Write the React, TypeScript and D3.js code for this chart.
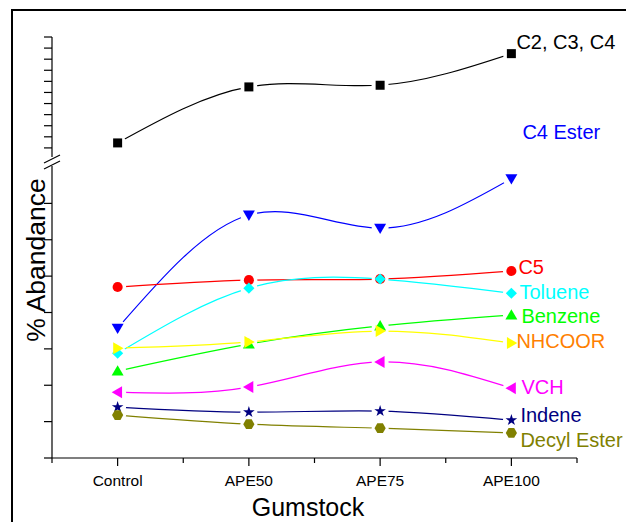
import React from 'react';
import * as d3 from 'd3';

const categories = ['Control', 'APE50', 'APE75', 'APE100'];

const c2c3c4 = [10.9, 21.0, 21.3, 27.0];
const c4Ester = [3.57, 6.68, 6.32, 7.68];
const c5 = [4.7, 4.89, 4.92, 5.14];
const toluene = [2.88, 4.67, 4.92, 4.53];
const benzene = [2.39, 3.13, 3.63, 3.93];
const nhcoor = [3.02, 3.19, 3.49, 3.16];
const vch = [1.81, 1.95, 2.64, 1.92];
const indene = [1.4, 1.26, 1.29, 1.04];
const decylEster = [1.18, 0.93, 0.82, 0.69];

const lowerTicks = [0, 1, 2, 3, 4, 5, 6, 7];
const upperTicks = [10, 12, 14, 16, 18, 20, 22, 24, 26, 28, 30];

type Shape = 'square' | 'down' | 'circle' | 'diamond' | 'up' | 'right' | 'left' | 'star' | 'hexagon';

interface Series {
  name: string;
  values: number[];
  color: string;
  labelColor: string;
  shape: Shape;
  upper?: boolean;
}

const series: Series[] = [
  { name: 'C2, C3, C4', values: c2c3c4, color: '#000000', labelColor: '#000000', shape: 'square', upper: true },
  { name: 'C4 Ester', values: c4Ester, color: '#0000ff', labelColor: '#0000ff', shape: 'down' },
  { name: 'C5', values: c5, color: '#ff0000', labelColor: '#ff0000', shape: 'circle' },
  { name: 'Toluene', values: toluene, color: '#00ffff', labelColor: '#00ffff', shape: 'diamond' },
  { name: 'Benzene', values: benzene, color: '#00ff00', labelColor: '#00ff00', shape: 'up' },
  { name: 'NHCOOR', values: nhcoor, color: '#ffff00', labelColor: '#ff8000', shape: 'right' },
  { name: 'VCH', values: vch, color: '#ff00ff', labelColor: '#ff00ff', shape: 'left' },
  { name: 'Indene', values: indene, color: '#000080', labelColor: '#000080', shape: 'star' },
  { name: 'Decyl Ester', values: decylEster, color: '#808000', labelColor: '#808000', shape: 'hexagon' },
];

// label nudges relative to the last point (dx, dy)
const labelNudge: Record<string, [number, number]> = {
  'C2, C3, C4': [5, -5],
  'C4 Ester': [11, -40],
  C5: [7, 3],
  Toluene: [8, 6],
  Benzene: [10, 8],
  NHCOOR: [5, 5],
  VCH: [10, 6],
  Indene: [9, 2],
  'Decyl Ester': [9, 14],
};

const W = 626;
const H = 522;
const axisX = 52;
const axisY = 458;
const font = 'Arial, "Liberation Sans", sans-serif';

const x = d3.scalePoint<string>().domain(categories).range([52, 577]).padding(0.5);
const yLower = d3.scaleLinear().domain([0, 8]).range([458, 167]);
const yUpper = d3.scaleLinear().domain([8, 30]).range([159, 37]);

const hexagon = (r: number) =>
  d3.range(6).map((i) => {
    const a = (Math.PI / 3) * i;
    return `${i ? 'L' : 'M'}${(r * Math.cos(a)).toFixed(2)},${(r * Math.sin(a)).toFixed(2)}`;
  }).join('') + 'Z';

function marker(shape: Shape, color: string, cx: number, cy: number, key: string) {
  const t = `translate(${cx},${cy})`;
  const tri = d3.symbol(d3.symbolTriangle, 62)()!;
  switch (shape) {
    case 'square':
      return <path key={key} transform={t} d={d3.symbol(d3.symbolSquare, 81)()!} fill={color} />;
    case 'circle':
      return <path key={key} transform={t} d={d3.symbol(d3.symbolCircle, 80)()!} fill={color} />;
    case 'diamond':
      return <path key={key} transform={`${t} rotate(45)`} d={d3.symbol(d3.symbolSquare, 62)()!} fill={color} />;
    case 'up':
      return <path key={key} transform={`${t} translate(0,1)`} d={tri} fill={color} />;
    case 'down':
      return <path key={key} transform={`${t} rotate(180) translate(0,1)`} d={tri} fill={color} />;
    case 'right':
      return <path key={key} transform={`${t} rotate(90) translate(0,1)`} d={tri} fill={color} />;
    case 'left':
      return <path key={key} transform={`${t} rotate(-90) translate(0,1)`} d={tri} fill={color} />;
    case 'star':
      return <path key={key} transform={t} d={d3.symbol(d3.symbolStar, 42)()!} fill={color} />;
    case 'hexagon':
      return <path key={key} transform={t} d={hexagon(5.6)} fill={color} />;
  }
}

export default function App() {
  const step = x.step();
  const minorTicks = [x(categories[0])! - step / 2, ...categories.map((c) => x(c)! + step / 2)];

  return (
    <svg width={W} height={H} style={{ position: 'absolute', left: 0, top: 0, background: '#fff' }}>
      <defs>
        {series.map((s, si) => {
          const ys = s.upper ? yUpper : yLower;
          return (
            <mask id={`gap-${si}`} key={si} maskUnits="userSpaceOnUse" x={0} y={0} width={W} height={H}>
              <rect x={0} y={0} width={W} height={H} fill="#fff" />
              {s.values.map((v, i) => (
                <circle key={i} cx={x(categories[i])!} cy={ys(v)} r={8.5} fill="#000" />
              ))}
            </mask>
          );
        })}
      </defs>

      {/* frame */}
      <path d={`M12,${H} V10 H${W}`} fill="none" stroke="#000" strokeWidth={2} />

      {/* y axis, broken */}
      <g stroke="#000" strokeWidth={1.2} fill="none">
        <line x1={axisX} x2={axisX} y1={yUpper(30)} y2={157} />
        <line x1={axisX} x2={axisX} y1={166} y2={axisY} />
        <line x1={axisX - 8} x2={axisX + 8} y1={163} y2={155} />
        <line x1={axisX - 8} x2={axisX + 8} y1={169} y2={161} />
        {upperTicks.map((t) => (
          <line key={`u${t}`} x1={axisX - 8} x2={axisX} y1={yUpper(t)} y2={yUpper(t)} />
        ))}
        {lowerTicks.map((t) => (
          <line key={`l${t}`} x1={axisX - 8} x2={axisX} y1={yLower(t)} y2={yLower(t)} />
        ))}
      </g>

      {/* x axis */}
      <g stroke="#000" strokeWidth={1.2}>
        <line x1={52} x2={577} y1={axisY} y2={axisY} />
        {categories.map((c) => (
          <line key={c} x1={x(c)!} x2={x(c)!} y1={axisY} y2={axisY + 8} />
        ))}
        {minorTicks.map((m, i) => (
          <line key={i} x1={m} x2={m} y1={axisY} y2={axisY + 5} />
        ))}
      </g>
      {categories.map((c) => (
        <text key={c} x={x(c)!} y={486} textAnchor="middle" fontFamily={font} fontSize={15.5} fill="#000">
          {c}
        </text>
      ))}

      <text x={308} y={516} textAnchor="middle" fontFamily={font} fontSize={25} fill="#000">
        Gumstock
      </text>
      <text
        transform="translate(45,260) rotate(-90)"
        textAnchor="middle"
        fontFamily={font}
        fontSize={26.5}
        fill="#000"
      >
        % Abandance
      </text>

      {/* series */}
      {series.map((s, si) => {
        const ys = s.upper ? yUpper : yLower;
        const line = d3
          .line<number>()
          .x((_, i) => x(categories[i])!)
          .y((v) => ys(v))
          .curve(d3.curveNatural);
        const last = s.values.length - 1;
        const [dx, dy] = labelNudge[s.name];
        return (
          <g key={s.name}>
            <path d={line(s.values)!} fill="none" stroke={s.color} strokeWidth={1.2} mask={`url(#gap-${si})`} />
            {s.values.map((v, i) => marker(s.shape, s.color, x(categories[i])!, ys(v), `${si}-${i}`))}
            <text
              x={x(categories[last])! + dx}
              y={ys(s.values[last]) + dy}
              fontFamily={font}
              fontSize={20}
              fill={s.labelColor}
            >
              {s.name}
            </text>
          </g>
        );
      })}
    </svg>
  );
}
